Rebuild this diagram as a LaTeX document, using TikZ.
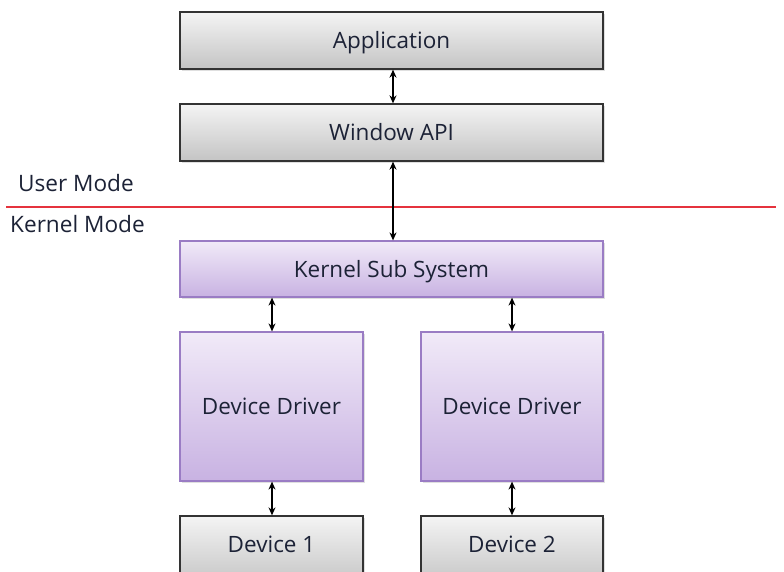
\documentclass[tikz,border=0pt]{standalone}
\usepackage{fontspec}
\setmainfont{Open Sans}
\usetikzlibrary{arrows.meta,shadows}
\definecolor{grayTop}{HTML}{F4F4F4}
\definecolor{grayBot}{HTML}{C4C4C4}
\definecolor{purTop}{HTML}{F1EAF8}
\definecolor{purBot}{HTML}{C8B2E2}
\definecolor{purLine}{HTML}{9A7CC4}
\definecolor{grayLine}{HTML}{333333}
\definecolor{modeRed}{rgb}{0.90,0.20,0.24}
\definecolor{txt}{HTML}{1C2236}
\tikzset{
  boxtext/.style={font=\fontsize{22.5}{26}\selectfont, text=txt, inner sep=0pt, text height=16pt, text depth=0pt},
  graybox/.style={boxtext, draw=grayLine, line width=1.3pt, top color=grayTop, bottom color=grayBot,
    drop shadow={shadow xshift=1.5pt, shadow yshift=-1.5pt, opacity=0.25}},
  purbox/.style={boxtext, draw=purLine, line width=1.2pt, top color=purTop, bottom color=purBot,
    drop shadow={shadow xshift=1.5pt, shadow yshift=-1.5pt, opacity=0.25}},
  link/.style={{Stealth[length=8pt,width=7pt]}-{Stealth[length=8pt,width=7pt]}, line width=1.2pt, black},
  modelabel/.style={font=\fontsize{22.6}{26}\selectfont, text=txt, anchor=west, inner sep=0pt, text height=16pt, text depth=0pt}
}
\begin{document}
\begin{tikzpicture}[x=1pt,y=-1pt]
\useasboundingbox (0,0) rectangle (784,571);
\clip (0,0) rectangle (784,571);
\fill[white] (0,0) rectangle (784,571);
\node[graybox, minimum width=423pt, minimum height=57pt] (app) at (391.5,40.5) {Application};
\node[graybox, minimum width=423pt, minimum height=57pt] (win) at (391.5,132.5) {Window API};
\node[purbox, minimum width=423pt, minimum height=56pt] (ker) at (391.5,269) {Kernel Sub System};
\node[purbox, minimum width=183pt, minimum height=149pt] (dd1) at (271.5,406.5) {Device Driver};
\node[purbox, minimum width=182pt, minimum height=149pt] (dd2) at (512,406.5) {Device Driver};
\node[graybox, minimum width=183pt, minimum height=70pt] (dev1) at (271.5,551) {};
\node[graybox, minimum width=182pt, minimum height=70pt] (dev2) at (512,551) {};
\node[boxtext] (dev1t) at (271.5,544) {Device 1};
\node[boxtext] (dev2t) at (512,544) {Device 2};
\coordinate (rl) at (6,207);
\coordinate (rr) at (776,207);
\draw[draw=modeRed, line width=1.2pt] (rl) -- (rr);
\node[modelabel] (um) at (18,183) {User Mode};
\node[modelabel] (km) at (10,224) {Kernel Mode};
\draw[link] ([xshift=1.5pt]app.south) -- ([xshift=1.5pt]win.north);
\draw[link] ([xshift=1.5pt]win.south) -- ([xshift=1.5pt]ker.north);
\draw[link] ([xshift=0.5pt]ker.south -| dd1.north) -- ([xshift=0.5pt]dd1.north);
\draw[link] (ker.south -| dd2.north) -- (dd2.north);
\draw[link] ([xshift=0.5pt]dd1.south) -- ([xshift=0.5pt]dev1.north);
\draw[link] (dd2.south) -- (dev2.north);
\end{tikzpicture}
\end{document}
